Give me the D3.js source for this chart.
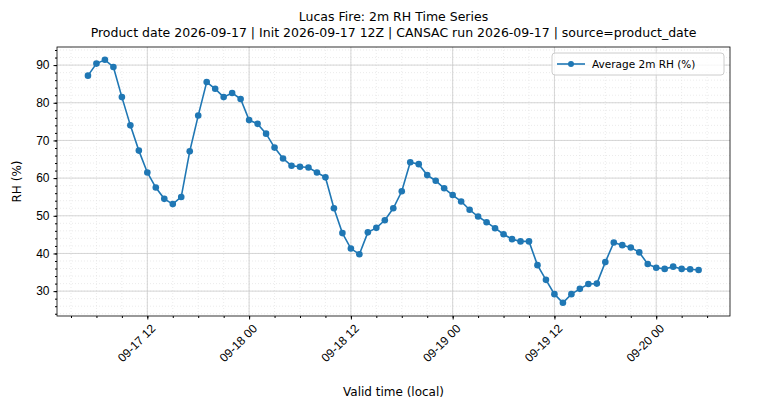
<!DOCTYPE html>
<html><head><meta charset="utf-8">
<script src="https://cdn.jsdelivr.net/npm/d3@7"></script>
<style>body{margin:0;background:#fff;font-family:"DejaVu Sans",sans-serif;}</style>
</head><body><div id="chart"></div>
<script>
// hourly values starting 2026-09-17 05:00 local
const startTime = Date.UTC(2026, 8, 17, 5);
const rhValues = [87.2, 90.4, 91.4, 89.5, 81.5, 74, 67.3, 61.5, 57.5, 54.5, 53.1, 55,
  67.1, 76.6, 85.5, 83.7, 81.5, 82.6, 81, 75.4, 74.4, 71.8, 68.1, 65.2, 63.3, 63, 62.8,
  61.5, 60.2, 52, 45.4, 41.3, 39.8, 45.6, 46.8, 48.8, 52, 56.5, 64.2, 63.7, 60.8, 59.3,
  57.3, 55.5, 53.8, 51.6, 49.8, 48.3, 46.7, 45.1, 43.8, 43.2, 43.2, 36.9, 33, 29.2, 26.9,
  29.2, 30.6, 31.9, 32, 37.7, 42.9, 42.2, 41.6, 40.3, 37.2, 36.2, 35.9, 36.5, 35.9, 35.8, 35.6];
const yTicks = [30, 40, 50, 60, 70, 80, 90];
const titleLines = ["Lucas Fire: 2m RH Time Series",
  "Product date 2026-09-17 | Init 2026-09-17 12Z | CANSAC run 2026-09-17 | source=product_date"];

const data = rhValues.map((v, i) => ({t: new Date(startTime + i * 3600e3), v}));
const hour = 3600e3;

const margin = {top: 47, right: 45, bottom: 93, left: 57},
  width = 775 - margin.left - margin.right,
  height = 409 - margin.top - margin.bottom;

const svg = d3.select("#chart").append("svg")
  .attr("width", 775).attr("height", 409)
  .style("font-family", "DejaVu Sans");
const g = svg.append("g").attr("transform", `translate(${margin.left},${margin.top})`);

const x = d3.scaleUtc()
  .domain([new Date(startTime - 3.65 * hour), new Date(startTime + 75.7 * hour)])
  .range([0, width]);
const y = d3.scaleLinear().domain([23.4, 94.8]).range([height, 0]);

const majorX = d3.utcHour.every(12).range(x.domain()[0], x.domain()[1]);
const minorX = d3.utcHour.every(3).range(x.domain()[0], x.domain()[1]);
const minorY = d3.range(24, 95, 2);

// grid
g.append("g").selectAll("line").data(minorX).join("line")
  .attr("x1", d => x(d)).attr("x2", d => x(d)).attr("y1", 0).attr("y2", height)
  .attr("stroke", "#ddd").attr("stroke-width", 0.6).attr("stroke-dasharray", "1,2");
g.append("g").selectAll("line").data(minorY).join("line")
  .attr("y1", d => y(d)).attr("y2", d => y(d)).attr("x1", 0).attr("x2", width)
  .attr("stroke", "#ddd").attr("stroke-width", 0.6).attr("stroke-dasharray", "1,2");
g.append("g").selectAll("line").data(majorX).join("line")
  .attr("x1", d => x(d)).attr("x2", d => x(d)).attr("y1", 0).attr("y2", height)
  .attr("stroke", "#ccc").attr("stroke-width", 0.8);
g.append("g").selectAll("line").data(yTicks).join("line")
  .attr("y1", d => y(d)).attr("y2", d => y(d)).attr("x1", 0).attr("x2", width)
  .attr("stroke", "#ccc").attr("stroke-width", 0.8);

// axes
const fmt = d3.utcFormat("%m-%d %H");
const xAxis = g.append("g").attr("transform", `translate(0,${height})`)
  .call(d3.axisBottom(x).tickValues(majorX).tickFormat(fmt).tickSize(3.5).tickPadding(4));
xAxis.selectAll("text").attr("font-size", 12).attr("fill", "#000")
  .style("text-anchor", "end").attr("x", 0).attr("y", 0).attr("dy", "0.75em")
  .attr("transform", "translate(2,7) rotate(-45)");
g.append("g").attr("transform", `translate(0,${height})`)
  .call(d3.axisBottom(x).tickValues(minorX).tickFormat("").tickSize(2));
const yAxis = g.append("g")
  .call(d3.axisLeft(y).tickValues(yTicks).tickSize(3.5).tickPadding(4));
yAxis.selectAll("text").attr("font-size", 12).attr("fill", "#000");
g.append("g").call(d3.axisLeft(y).tickValues(minorY).tickFormat("").tickSize(2));
g.selectAll(".domain").remove();
g.append("rect").attr("width", width).attr("height", height)
  .attr("fill", "none").attr("stroke", "#000").attr("stroke-width", 0.8);

// line + points
const color = "#1f77b4";
g.append("path").datum(data)
  .attr("fill", "none").attr("stroke", color).attr("stroke-width", 1.6)
  .attr("d", d3.line().x(d => x(d.t)).y(d => y(d.v)));
g.append("g").selectAll("circle").data(data).join("circle")
  .attr("cx", d => x(d.t)).attr("cy", d => y(d.v)).attr("r", 3.3).attr("fill", color);

// titles
svg.selectAll(".title").data(titleLines).join("text")
  .attr("x", margin.left + width / 2).attr("y", (d, i) => 21 + i * 16)
  .attr("text-anchor", "middle").attr("font-size", 12.5).text(d => d);
svg.append("text").attr("x", margin.left + width / 2).attr("y", 396)
  .attr("text-anchor", "middle").attr("font-size", 12).text("Valid time (local)");
svg.append("text").attr("transform", `translate(21,${margin.top + height / 2}) rotate(-90)`)
  .attr("text-anchor", "middle").attr("font-size", 12).text("RH (%)");

// legend
const lg = g.append("g").attr("transform", `translate(${width - 178},6)`);
lg.append("rect").attr("width", 172).attr("height", 22).attr("rx", 3)
  .attr("fill", "#fff").attr("fill-opacity", 0.8).attr("stroke", "#ccc");
lg.append("line").attr("x1", 5).attr("x2", 33).attr("y1", 11).attr("y2", 11)
  .attr("stroke", color).attr("stroke-width", 1.6);
lg.append("circle").attr("cx", 19).attr("cy", 11).attr("r", 3).attr("fill", color);
lg.append("text").attr("x", 40).attr("y", 15).attr("font-size", 10.5).text("Average 2m RH (%)");
</script></body></html>
